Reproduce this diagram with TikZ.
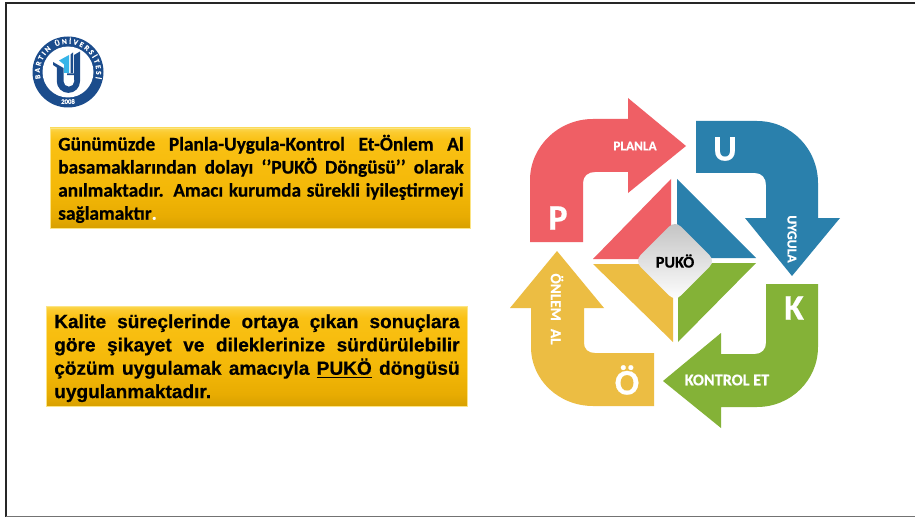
\documentclass[tikz,border=0pt]{standalone}
\usepackage{fontspec}
\setmainfont{Carlito}[BoldFeatures={FakeBold=0.5}]
\newfontfamily\arialf{Liberation Sans}[BoldFeatures={FakeBold=0.5}]
\usetikzlibrary{decorations.text,shadows,calc}
\definecolor{cred}{HTML}{EF5F65}
\definecolor{cblue}{HTML}{2A80AC}
\definecolor{cgreen}{HTML}{84B237}
\definecolor{cyel}{HTML}{ECBD43}
\definecolor{navy}{HTML}{1B4C8C}
\definecolor{sky}{HTML}{35B4E8}
\definecolor{gold0}{HTML}{FBD850}
\definecolor{gold1}{HTML}{FBCB30}
\definecolor{gold2}{HTML}{D8A000}
\definecolor{gold3}{HTML}{E8AC02}
\definecolor{gold4}{HTML}{F4B808}
\definecolor{gold5}{HTML}{FAC114}
\pgfdeclareverticalshading{goldv}{100bp}{color(0bp)=(gold2); color(25bp)=(gold2); color(31bp)=(gold3); color(45bp)=(gold4); color(69bp)=(gold5); color(73bp)=(gold1); color(75bp)=(gold0); color(100bp)=(gold0)}
\tikzset{
 x=0.75pt,y=-0.75pt,
 goldbox/.style={minimum width=#1*0.75pt,minimum height=75pt,inner sep=0pt,draw=gold0!70!white,line width=0.6pt,
   shading=goldv,
   drop shadow={shadow xshift=0.8pt,shadow yshift=-0.8pt,fill=black!35,opacity=.5}},
 boxtext/.style={inner sep=0pt,align=justify,text width=304pt,anchor=north west},
 lab/.style={text=white,inner sep=0pt},
 bigl/.style={text=white,font=\fontsize{27}{27}\selectfont\bfseries,inner sep=0pt},
}
\begin{document}
\begin{tikzpicture}
\useasboundingbox (0,0) rectangle (915,517);
\fill[white] (0,0) rectangle (915,517);
% slide frame
\draw[black!85,line width=1.6pt] (915,3) -- (6,3) -- (6,517);
\draw[black!55,line width=1pt] (6,516.5) -- (915,516.5);
% logo
\begin{scope}[shift={(68,72)},y=0.75pt]
\fill[navy] (0,0) circle (35.5);
\fill[white] (0,0) circle (25.5);
\path[decorate,decoration={text along path,text align={fit to path},raise=-2.1pt,
  text={|\fontsize{5.6}{6}\selectfont\bfseries\color{white}|BARTIN ÜNİVERSİTESİ}}]
  (-30.2,-7) arc[start angle=193,end angle=-13,radius=31];
\node[text=white,font=\fontsize{5}{5}\selectfont\bfseries,inner sep=0pt] (yr) at (0,-29.5) {2008};
% U mark
\fill[navy] (-15,10) -- (-4.5,4) -- (-4.5,-9.3) arc[start angle=180,end angle=360,radius=5.4] -- (6,-3.2) -- (-1,-3.2) -- (-1,-1.5) -- (6,-1.5) -- (6,17) -- (12,20.5) -- (12,-9.3) arc[start angle=0,end angle=-180,radius=11.6] -- (-11.2,4.5) -- (-15,7) -- cycle;
\fill[sky] (-9,11.5) -- (1,17) -- (1,-1) -- (-4,-1) -- (-4,7.5) -- cycle;
\fill[navy] (2.5,17.5) -- (5,19.5) -- (5,-1) -- (2.5,-1) -- cycle;
\end{scope}
% text boxes
\node[goldbox=420] (b1) at (260,178) {};
\node[goldbox=421] (b2) at (256.5,356) {};
\node[boxtext,font=\fontsize{14.5}{17.3}\selectfont\bfseries] (t1) at (58,134.5) {Günümüzde Planla-Uygula-Kontrol Et-Önlem Al\linebreak basamaklarından dolayı ‘’PUKÖ Döngüsü’’ olarak\linebreak anılmaktadır. Amacı kurumda sürekli iyileştirmeyi\linebreak sağlamaktır{\color{white}.}};
\node[boxtext,font=\arialf\fontsize{14.3}{17.5}\selectfont\bfseries] (t2) at (54,314) {Kalite süreçlerinde ortaya çıkan sonuçlara\linebreak göre şikayet ve dileklerinize sürdürülebilir\linebreak çözüm uygulamak amacıyla \underline{PUKÖ} döngüsü\linebreak uygulanmaktadır.};
% arrows
\fill[cred] (530,242) -- (583,242) -- (583,183) .. controls (583,176) and (588,172) .. (595,172) -- (628,172) -- (628,193) -- (686,146) -- (628,98) -- (628,119) -- (593,119) .. controls (558,119) and (530,147) .. (530,180) -- cycle;
\fill[cblue] (696,121) -- (757,121) .. controls (791,121) and (818,149) .. (818,183) -- (818,218) -- (840,218) -- (792,276) -- (745,218) -- (766,218) -- (766,185) .. controls (766,178) and (762,173) .. (755,173) -- (696,173) -- cycle;
\fill[cgreen] (818,284) -- (766,284) -- (766,343) .. controls (766,349) and (762,354) .. (755,354) -- (721,354) -- (721,333) -- (663,381) -- (721,428) -- (721,407) -- (757,407) .. controls (791,407) and (818,380) .. (818,347) -- cycle;
\fill[cyel] (654,406) -- (654,353) -- (595,353) .. controls (588,353) and (584,349) .. (584,343) -- (584,308) -- (604,308) -- (557,251) -- (510,308) -- (531,308) -- (531,347) .. controls (531,380) and (559,406) .. (593,406) -- cycle;
% centre wedges
\fill[cred] (671,179) -- (593,259) -- (640,259) -- (671,226) -- cycle;
\fill[cblue] (677,179) -- (756,258) -- (710,258) -- (677,224) -- cycle;
\fill[cgreen] (756,263) -- (678,342) -- (678,298) -- (712,263) -- cycle;
\fill[cyel] (593,264) -- (673,342) -- (673,298) -- (639,264) -- cycle;
% centre diamond
\node[rounded corners=6pt,rotate=45,minimum width=42.7pt,minimum height=42.7pt,inner sep=0pt,top color=black!24,bottom color=white] (dia) at (675,261) {};
\node[font=\fontsize{12.2}{12}\selectfont\bfseries,inner sep=0pt] (pk) at (675,261) {PUKÖ};
% labels
\node[lab,font=\fontsize{10}{10}\selectfont\bfseries] (lp) at (635,146) {PLANLA};
\node[lab,rotate=-90,font=\fontsize{10.3}{10}\selectfont\bfseries] (lu) at (792,239) {UYGULA};
\node[lab,font=\fontsize{12.2}{11}\selectfont\bfseries] (lk) at (727,380) {KONTROL ET};
\node[lab,rotate=-90,font=\fontsize{11.4}{10}\selectfont\bfseries] (lo) at (557,309) {ÖNLEM\hspace{6pt}AL};
\node[bigl] (p) at (558,218) {P};
\node[bigl] (u) at (725,149) {U};
\node[bigl] (k) at (794,308) {K};
\node[bigl] (o) at (627,380) {Ö};
\end{tikzpicture}
\end{document}
